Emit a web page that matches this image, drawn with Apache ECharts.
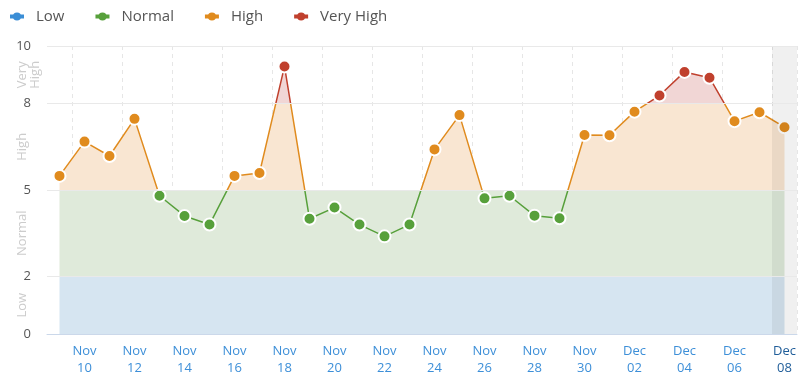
<!DOCTYPE html>
<html>
<head>
<meta charset="utf-8">
<script src="https://cdn.jsdelivr.net/npm/echarts@6/dist/echarts.min.js"></script>
<style>
  html, body { margin: 0; padding: 0; background: #fff; }
  #chart { width: 800px; height: 377px; }
</style>
</head>
<body>
<div id="chart"></div>
<script>
// 日期
const days = [
  "Nov 09", "Nov 10", "Nov 11", "Nov 12", "Nov 13", "Nov 14", "Nov 15", "Nov 16",
  "Nov 17", "Nov 18", "Nov 19", "Nov 20", "Nov 21", "Nov 22", "Nov 23", "Nov 24",
  "Nov 25", "Nov 26", "Nov 27", "Nov 28", "Nov 29", "Nov 30", "Dec 01", "Dec 02",
  "Dec 03", "Dec 04", "Dec 05", "Dec 06", "Dec 07", "Dec 08",
];

// 每日数值
const values = [
  5.49, 6.68, 6.18, 7.47, 4.8, 4.1, 3.8, 5.49, 5.59, 9.29, 4.0, 4.39, 3.8, 3.39, 3.8,
  6.41, 7.6, 4.71, 4.8, 4.11, 4.02, 6.91, 6.9, 7.72, 8.28, 9.1, 8.9, 7.39, 7.7, 7.18,
];

// 区间
const bandNames = ["Low", "Normal", "High", "Very High"];
const bandEdges = [0, 2, 5, 8, 10];
const bandMids = [1, 3.5, 6.5, 9];
const yTicks = [0, 2, 5, 8, 10];
const highlightDay = "Dec 08";

const lineColors = ["#3b8ed6", "#57a03b", "#e08b1e", "#c0402d"];
const fillColors = ["#d6e5f1", "#dfeada", "#f9e6d2", "#f1d6d5"];
const clear = "rgba(255,255,255,0)";

const chart = echarts.init(document.getElementById("chart"));

const pieces = (colors) =>
  bandNames.map((n, i) => ({
    gte: bandEdges[i],
    lt: i === bandNames.length - 1 ? 100 : bandEdges[i + 1],
    color: colors[i],
  }));

// 0-5 区间整段填充
const markAreaData = [0, 1].map((i) => [
  { xAxis: days[0], yAxis: bandEdges[i], itemStyle: { color: fillColors[i] } },
  { xAxis: days[days.length - 1], yAxis: bandEdges[i + 1] },
]);

const series = [
  {
    type: "line",
    data: values,
    symbol: "none",
    lineStyle: { width: 0 },
    areaStyle: { opacity: 1 },
    silent: true,
    z: 1,
    markArea: { silent: true, data: markAreaData },
    markLine: {
      silent: true,
      symbol: ["none", "none"],
      label: { show: false },
      lineStyle: { color: "#e9e9e9", type: "solid", width: 1 },
      data: [2, 5, 8, 10].map((v) => ({ yAxis: v })),
    },
  },
  {
    type: "line",
    data: values,
    symbol: "circle",
    symbolSize: 12,
    lineStyle: { width: 1.5 },
    itemStyle: { borderColor: "#fff", borderWidth: 2 },
    z: 3,
  },
  {
    type: "bar",
    data: days.map((d) => (d === highlightDay ? 10 : "-")),
    barWidth: "100%",
    itemStyle: { color: "rgba(0,0,0,0.06)" },
    silent: true,
    z: 4,
  },
];

// 图例用
bandNames.forEach((n, i) => {
  series.push({
    name: n,
    type: "line",
    data: [],
    symbol: "circle",
    color: lineColors[i],
  });
});

const option = {
  animation: false,
  textStyle: { fontFamily: "Open Sans" },
  legend: {
    data: bandNames,
    left: 3,
    top: 4,
    itemWidth: 14,
    itemHeight: 10,
    itemGap: 29,
    lineStyle: { width: 4 },
    textStyle: { fontSize: 15, color: "#555", padding: [0, 0, 0, 7] },
  },
  grid: { left: 47, right: 3, top: 46, bottom: 41.5 },
  visualMap: [
    { show: false, seriesIndex: 0, dimension: 1, pieces: pieces([clear, clear, fillColors[2], fillColors[3]]) },
    { show: false, seriesIndex: 1, dimension: 1, pieces: pieces(lineColors) },
  ],
  xAxis: {
    type: "category",
    data: days,
    axisLine: { lineStyle: { color: "#cbd8ea" } },
    axisTick: { interval: (i) => i % 2 === 1, alignWithLabel: true, lineStyle: { color: "#cbd8ea" } },
    splitLine: {
      show: true,
      interval: (i) => i % 2 === 1,
      lineStyle: { color: "#e6e6e6", type: [4, 4] },
    },
    axisLabel: {
      interval: (i) => i % 2 === 1,
      fontSize: 13,
      lineHeight: 17,
      color: "#3d8fd8",
      margin: 9,
      formatter: (v) => {
        const t = v.replace(" ", "\n");
        return v === highlightDay ? "{sel|" + v.replace(" ", "}\n{sel|") + "}" : t;
      },
      rich: { sel: { color: "#1f5d99", fontSize: 13, lineHeight: 17 } },
    },
  },
  yAxis: [
    {
      type: "value",
      min: 0,
      max: 10,
      splitLine: { show: false },
      axisLine: { show: false },
      axisTick: { show: false },
      axisLabel: { customValues: yTicks, fontSize: 13, color: "#555", margin: 16 },
    },
    {
      type: "value",
      min: 0,
      max: 10,
      position: "left",
      splitLine: { show: false },
      axisLine: { show: false },
      axisTick: { show: false },
      axisLabel: {
        customValues: bandMids,
        rotate: 90,
        fontSize: 13,
        color: "#cccccc",
        margin: 31,
        verticalAlign: "top",
        formatter: (v) => bandNames[bandMids.indexOf(v)].replace(" ", "\n"),
      },
    },
  ],
  series: series,
};

chart.setOption(option);
</script>
</body>
</html>
